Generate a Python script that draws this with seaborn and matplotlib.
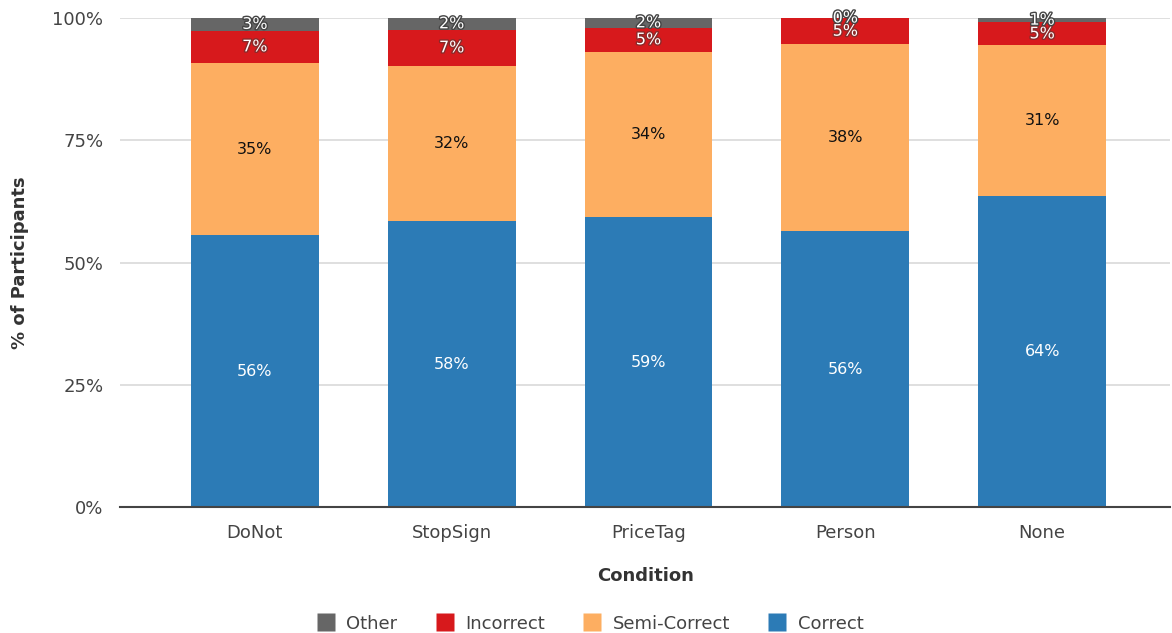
import matplotlib
matplotlib.use("Agg")
import matplotlib.pyplot as plt
import matplotlib.patheffects as pe
from matplotlib.lines import Line2D
import numpy as np
import pandas as pd
import seaborn as sns

# Response breakdown per condition (% of participants)
conditions = ["DoNot", "StopSign", "PriceTag", "Person", "None"]
correct = [55.6, 58.4, 59.3, 56.4, 63.6]
semi_correct = [35.2, 31.8, 33.8, 38.2, 30.8]
incorrect = [6.6, 7.4, 4.9, 5.4, 4.7]
other = [2.6, 2.4, 2.0, 0.0, 0.9]

series_names = ["Correct", "Semi-Correct", "Incorrect", "Other"]
series_values = [correct, semi_correct, incorrect, other]
colors = {"Correct": "#2c7bb6", "Semi-Correct": "#fdae61",
          "Incorrect": "#d7191c", "Other": "#666666"}
label_colors = {"Correct": "white", "Semi-Correct": "#111111",
                "Incorrect": "white", "Other": "white"}
stroke_colors = {"Incorrect": "#8a2a2a", "Other": "#444444"}

sns.set_theme(style="white")
plt.rcParams["font.family"] = ["DejaVu Sans"]

df = pd.DataFrame({"Condition": conditions})
for name, vals in zip(series_names, series_values):
    df[name] = vals
cum = df[series_names].cumsum(axis=1)

fig = plt.figure(figsize=(11.72, 6.33), dpi=100)
ax = fig.add_axes([0.1024, 0.199, 0.896, 0.7726])

# Stacked bars: draw cumulative totals from the top series down
for name in reversed(series_names):
    sns.barplot(data=pd.DataFrame({"Condition": conditions, "v": cum[name]}),
                x="Condition", y="v", color=colors[name], width=0.65,
                saturation=1, ax=ax, edgecolor="none", linewidth=0)

# Segment labels centred in each segment
for name in series_names:
    mids = cum[name] - df[name] / 2
    for i, (v, m) in enumerate(zip(df[name], mids)):
        txt = ax.text(i, m, f"{v:.0f}%", ha="center", va="center",
                      fontsize=11.5, color=label_colors[name])
        if name in stroke_colors:
            txt.set_path_effects([pe.withStroke(linewidth=2, foreground=stroke_colors[name])])

ax.set_ylim(0, 100)
ax.set_xlim(-0.685, 4.65)
ax.set_yticks([0, 25, 50, 75, 100])
ax.set_yticklabels(["0%", "25%", "50%", "75%", "100%"])
ax.yaxis.grid(True, color="#d9d9d9", linewidth=1.2)
ax.set_axisbelow(True)
for s in ["left", "right", "top"]:
    ax.spines[s].set_visible(False)
ax.spines["bottom"].set_color("#444444")
ax.spines["bottom"].set_linewidth(1.5)
ax.tick_params(axis="both", length=0, labelsize=13, labelcolor="#444444")
ax.tick_params(axis="y", pad=12)
ax.tick_params(axis="x", pad=12)
ax.set_xlabel("Condition", fontsize=13, fontweight="bold", color="#333333", labelpad=18)
ax.set_ylabel("% of Participants", fontsize=13, fontweight="bold", color="#333333", labelpad=17)

legend_order = ["Other", "Incorrect", "Semi-Correct", "Correct"]
handles = [Line2D([], [], marker="s", linestyle="none", markersize=13,
                  markerfacecolor=colors[n], markeredgecolor="none") for n in legend_order]
fig.legend(handles, legend_order, loc="lower center", bbox_to_anchor=(0.502, -0.025),
           ncol=4, frameon=False, fontsize=13, handletextpad=0.45, handlelength=1.4,
           columnspacing=1.9, labelcolor="#444444")

fig.savefig("out.png", dpi=100)
